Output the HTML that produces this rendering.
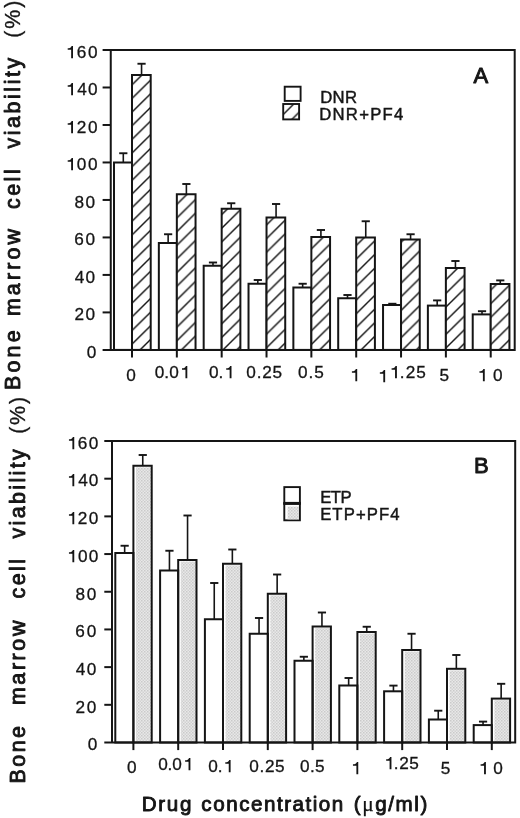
<!DOCTYPE html>
<html><head><meta charset="utf-8"><title>Bone marrow cell viability</title>
<style>
html,body{margin:0;padding:0;background:#fff;}
body{width:520px;height:818px;overflow:hidden;font-family:"Liberation Sans",sans-serif;}
svg{display:block;will-change:transform;}
text{font-family:"Liberation Sans",sans-serif;fill:#151515;}
.t{font-size:17.2px;stroke:#151515;stroke-width:0.3px;}
.lg{font-size:16.7px;stroke:#151515;stroke-width:0.45px;}
.pl{font-size:22px;stroke:#151515;stroke-width:0.95px;stroke-linejoin:round;}
.yl{font-size:21.4px;stroke:#151515;stroke-width:0.9px;stroke-linejoin:round;}
.yl2{font-size:21.4px;stroke:#151515;stroke-width:0.3px;}
.xl{font-size:20.6px;stroke:#151515;stroke-width:0.9px;stroke-linejoin:round;}
.mu{font-family:"Liberation Serif",serif;font-size:21.5px;stroke-width:0.25px;}
</style></head>
<body>
<svg width="520" height="818" viewBox="0 0 520 818">
<defs>
<pattern id="hatch" patternUnits="userSpaceOnUse" width="13.816" height="13.65" x="133.2" y="329.35">
<rect width="13.816" height="13.65" fill="#fff"/>
<path d="M-1 14.638L14.816 -0.988M-1 0.988L1 -0.988M12.816 14.638L14.816 12.662" stroke="#151515" stroke-width="1.4"/>
</pattern>
<pattern id="hatchL" patternUnits="userSpaceOnUse" width="13.6" height="13.6" x="285" y="99.1">
<rect width="13.6" height="13.6" fill="#fff"/>
<path d="M-1 14.6L14.6 -1M-1 1L1 -1M12.6 14.6L14.6 12.6" stroke="#151515" stroke-width="1.4"/>
</pattern>
<pattern id="dots" patternUnits="userSpaceOnUse" width="3" height="3">
<rect width="3" height="3" fill="#e8e8e8"/>
<rect x="0" y="0" width="1.5" height="1.5" fill="#cacaca"/>
<rect x="1.5" y="1.5" width="1.5" height="1.5" fill="#d2d2d2"/>
</pattern>
</defs>
<rect width="520" height="818" fill="#fff"/>
<rect x="114" y="162.5" width="18" height="187.4" fill="#fff" stroke="#151515" stroke-width="2.0"/>
<rect x="132" y="75" width="18.7" height="274.9" fill="url(#hatch)" stroke="#151515" stroke-width="2.0"/>
<path d="M123.3 162.5V153.25" stroke="#151515" stroke-width="1.6" fill="none"/>
<path d="M119.2 153.25H127.4" stroke="#151515" stroke-width="1.9" fill="none"/>
<path d="M141.55 75V63.75" stroke="#151515" stroke-width="1.6" fill="none"/>
<path d="M137.45 63.75H145.65" stroke="#151515" stroke-width="1.9" fill="none"/>
<rect x="158.84" y="243" width="18" height="106.9" fill="#fff" stroke="#151515" stroke-width="2.0"/>
<rect x="176.84" y="194.25" width="18.7" height="155.65" fill="url(#hatch)" stroke="#151515" stroke-width="2.0"/>
<path d="M168.14 243V234.25" stroke="#151515" stroke-width="1.6" fill="none"/>
<path d="M164.04 234.25H172.24" stroke="#151515" stroke-width="1.9" fill="none"/>
<path d="M186.39 194.25V184" stroke="#151515" stroke-width="1.6" fill="none"/>
<path d="M182.29 184H190.49" stroke="#151515" stroke-width="1.9" fill="none"/>
<rect x="203.68" y="265.75" width="18" height="84.15" fill="#fff" stroke="#151515" stroke-width="2.0"/>
<rect x="221.68" y="208.75" width="18.7" height="141.15" fill="url(#hatch)" stroke="#151515" stroke-width="2.0"/>
<path d="M212.98 265.75V262.5" stroke="#151515" stroke-width="1.6" fill="none"/>
<path d="M208.88 262.5H217.08" stroke="#151515" stroke-width="1.9" fill="none"/>
<path d="M231.23 208.75V203.25" stroke="#151515" stroke-width="1.6" fill="none"/>
<path d="M227.13 203.25H235.33" stroke="#151515" stroke-width="1.9" fill="none"/>
<rect x="248.52" y="283.75" width="18" height="66.15" fill="#fff" stroke="#151515" stroke-width="2.0"/>
<rect x="266.52" y="217.5" width="18.7" height="132.4" fill="url(#hatch)" stroke="#151515" stroke-width="2.0"/>
<path d="M257.82 283.75V280" stroke="#151515" stroke-width="1.6" fill="none"/>
<path d="M253.72 280H261.92" stroke="#151515" stroke-width="1.9" fill="none"/>
<path d="M276.07 217.5V204" stroke="#151515" stroke-width="1.6" fill="none"/>
<path d="M271.97 204H280.17" stroke="#151515" stroke-width="1.9" fill="none"/>
<rect x="293.36" y="287.5" width="18" height="62.4" fill="#fff" stroke="#151515" stroke-width="2.0"/>
<rect x="311.36" y="237" width="18.7" height="112.9" fill="url(#hatch)" stroke="#151515" stroke-width="2.0"/>
<path d="M302.66 287.5V283.75" stroke="#151515" stroke-width="1.6" fill="none"/>
<path d="M298.56 283.75H306.76" stroke="#151515" stroke-width="1.9" fill="none"/>
<path d="M320.91 237V230" stroke="#151515" stroke-width="1.6" fill="none"/>
<path d="M316.81 230H325.01" stroke="#151515" stroke-width="1.9" fill="none"/>
<rect x="338.2" y="298.25" width="18" height="51.65" fill="#fff" stroke="#151515" stroke-width="2.0"/>
<rect x="356.2" y="237.5" width="18.7" height="112.4" fill="url(#hatch)" stroke="#151515" stroke-width="2.0"/>
<path d="M347.5 298.25V295" stroke="#151515" stroke-width="1.6" fill="none"/>
<path d="M343.4 295H351.6" stroke="#151515" stroke-width="1.9" fill="none"/>
<path d="M365.75 237.5V221.25" stroke="#151515" stroke-width="1.6" fill="none"/>
<path d="M361.65 221.25H369.85" stroke="#151515" stroke-width="1.9" fill="none"/>
<rect x="383.04" y="305" width="18" height="44.9" fill="#fff" stroke="#151515" stroke-width="2.0"/>
<rect x="401.04" y="239.5" width="18.7" height="110.4" fill="url(#hatch)" stroke="#151515" stroke-width="2.0"/>
<path d="M392.34 305V303.75" stroke="#151515" stroke-width="1.6" fill="none"/>
<path d="M388.24 303.75H396.44" stroke="#151515" stroke-width="1.9" fill="none"/>
<path d="M410.59 239.5V234.25" stroke="#151515" stroke-width="1.6" fill="none"/>
<path d="M406.49 234.25H414.69" stroke="#151515" stroke-width="1.9" fill="none"/>
<rect x="427.88" y="305.6" width="18" height="44.3" fill="#fff" stroke="#151515" stroke-width="2.0"/>
<rect x="445.88" y="268" width="18.7" height="81.9" fill="url(#hatch)" stroke="#151515" stroke-width="2.0"/>
<path d="M437.18 305.6V300.4" stroke="#151515" stroke-width="1.6" fill="none"/>
<path d="M433.08 300.4H441.28" stroke="#151515" stroke-width="1.9" fill="none"/>
<path d="M455.43 268V261" stroke="#151515" stroke-width="1.6" fill="none"/>
<path d="M451.33 261H459.53" stroke="#151515" stroke-width="1.9" fill="none"/>
<rect x="472.72" y="314.4" width="18" height="35.5" fill="#fff" stroke="#151515" stroke-width="2.0"/>
<rect x="490.72" y="284" width="18.7" height="65.9" fill="url(#hatch)" stroke="#151515" stroke-width="2.0"/>
<path d="M482.02 314.4V311.2" stroke="#151515" stroke-width="1.6" fill="none"/>
<path d="M477.92 311.2H486.12" stroke="#151515" stroke-width="1.9" fill="none"/>
<path d="M500.27 284V280.4" stroke="#151515" stroke-width="1.6" fill="none"/>
<path d="M496.17 280.4H504.37" stroke="#151515" stroke-width="1.9" fill="none"/>
<path d="M102.6 50H514.7V349.9H102.6M110.75 50V349.9" stroke="#151515" stroke-width="2.0" fill="none"/>
<path d="M102.6 312.41H110.75" stroke="#151515" stroke-width="2.0"/>
<path d="M102.6 274.92H110.75" stroke="#151515" stroke-width="2.0"/>
<path d="M102.6 237.44H110.75" stroke="#151515" stroke-width="2.0"/>
<path d="M102.6 199.95H110.75" stroke="#151515" stroke-width="2.0"/>
<path d="M102.6 162.46H110.75" stroke="#151515" stroke-width="2.0"/>
<path d="M102.6 124.97H110.75" stroke="#151515" stroke-width="2.0"/>
<path d="M102.6 87.49H110.75" stroke="#151515" stroke-width="2.0"/>
<path d="M132 349.9V357.5" stroke="#151515" stroke-width="2.0"/>
<path d="M176.84 349.9V357.5" stroke="#151515" stroke-width="2.0"/>
<path d="M221.68 349.9V357.5" stroke="#151515" stroke-width="2.0"/>
<path d="M266.52 349.9V357.5" stroke="#151515" stroke-width="2.0"/>
<path d="M311.36 349.9V357.5" stroke="#151515" stroke-width="2.0"/>
<path d="M356.2 349.9V357.5" stroke="#151515" stroke-width="2.0"/>
<path d="M401.04 349.9V357.5" stroke="#151515" stroke-width="2.0"/>
<path d="M445.88 349.9V357.5" stroke="#151515" stroke-width="2.0"/>
<path d="M490.72 349.9V357.5" stroke="#151515" stroke-width="2.0"/>
<rect x="115.3" y="553" width="18.1" height="189.5" fill="#fff" stroke="#151515" stroke-width="2.0"/>
<rect x="136" y="467.35" width="15.7" height="275.15" fill="url(#dots)"/>
<rect x="133.4" y="465.75" width="18.3" height="276.75" fill="none" stroke="#151515" stroke-width="2.0"/>
<path d="M124.65 553V545.75" stroke="#151515" stroke-width="1.6" fill="none"/>
<path d="M120.55 545.75H128.75" stroke="#151515" stroke-width="1.9" fill="none"/>
<path d="M142.75 465.75V455" stroke="#151515" stroke-width="1.6" fill="none"/>
<path d="M138.65 455H146.85" stroke="#151515" stroke-width="1.9" fill="none"/>
<rect x="160.1" y="570.5" width="18.1" height="172" fill="#fff" stroke="#151515" stroke-width="2.0"/>
<rect x="180.8" y="561.6" width="15.7" height="180.9" fill="url(#dots)"/>
<rect x="178.2" y="560" width="18.3" height="182.5" fill="none" stroke="#151515" stroke-width="2.0"/>
<path d="M169.45 570.5V550.75" stroke="#151515" stroke-width="1.6" fill="none"/>
<path d="M165.35 550.75H173.55" stroke="#151515" stroke-width="1.9" fill="none"/>
<path d="M187.55 560V515.5" stroke="#151515" stroke-width="1.6" fill="none"/>
<path d="M183.45 515.5H191.65" stroke="#151515" stroke-width="1.9" fill="none"/>
<rect x="204.9" y="619.25" width="18.1" height="123.25" fill="#fff" stroke="#151515" stroke-width="2.0"/>
<rect x="225.6" y="565.35" width="15.7" height="177.15" fill="url(#dots)"/>
<rect x="223" y="563.75" width="18.3" height="178.75" fill="none" stroke="#151515" stroke-width="2.0"/>
<path d="M214.25 619.25V583" stroke="#151515" stroke-width="1.6" fill="none"/>
<path d="M210.15 583H218.35" stroke="#151515" stroke-width="1.9" fill="none"/>
<path d="M232.35 563.75V549.5" stroke="#151515" stroke-width="1.6" fill="none"/>
<path d="M228.25 549.5H236.45" stroke="#151515" stroke-width="1.9" fill="none"/>
<rect x="249.7" y="633.75" width="18.1" height="108.75" fill="#fff" stroke="#151515" stroke-width="2.0"/>
<rect x="270.4" y="595.35" width="15.7" height="147.15" fill="url(#dots)"/>
<rect x="267.8" y="593.75" width="18.3" height="148.75" fill="none" stroke="#151515" stroke-width="2.0"/>
<path d="M259.05 633.75V618" stroke="#151515" stroke-width="1.6" fill="none"/>
<path d="M254.95 618H263.15" stroke="#151515" stroke-width="1.9" fill="none"/>
<path d="M277.15 593.75V574.5" stroke="#151515" stroke-width="1.6" fill="none"/>
<path d="M273.05 574.5H281.25" stroke="#151515" stroke-width="1.9" fill="none"/>
<rect x="294.5" y="660.75" width="18.1" height="81.75" fill="#fff" stroke="#151515" stroke-width="2.0"/>
<rect x="315.2" y="628.1" width="15.7" height="114.4" fill="url(#dots)"/>
<rect x="312.6" y="626.5" width="18.3" height="116" fill="none" stroke="#151515" stroke-width="2.0"/>
<path d="M303.85 660.75V656.75" stroke="#151515" stroke-width="1.6" fill="none"/>
<path d="M299.75 656.75H307.95" stroke="#151515" stroke-width="1.9" fill="none"/>
<path d="M321.95 626.5V612.5" stroke="#151515" stroke-width="1.6" fill="none"/>
<path d="M317.85 612.5H326.05" stroke="#151515" stroke-width="1.9" fill="none"/>
<rect x="339.3" y="685.5" width="18.1" height="57" fill="#fff" stroke="#151515" stroke-width="2.0"/>
<rect x="360" y="633.6" width="15.7" height="108.9" fill="url(#dots)"/>
<rect x="357.4" y="632" width="18.3" height="110.5" fill="none" stroke="#151515" stroke-width="2.0"/>
<path d="M348.65 685.5V678" stroke="#151515" stroke-width="1.6" fill="none"/>
<path d="M344.55 678H352.75" stroke="#151515" stroke-width="1.9" fill="none"/>
<path d="M366.75 632V626.75" stroke="#151515" stroke-width="1.6" fill="none"/>
<path d="M362.65 626.75H370.85" stroke="#151515" stroke-width="1.9" fill="none"/>
<rect x="384.1" y="691.3" width="18.1" height="51.2" fill="#fff" stroke="#151515" stroke-width="2.0"/>
<rect x="404.8" y="651.6" width="15.7" height="90.9" fill="url(#dots)"/>
<rect x="402.2" y="650" width="18.3" height="92.5" fill="none" stroke="#151515" stroke-width="2.0"/>
<path d="M393.45 691.3V685.6" stroke="#151515" stroke-width="1.6" fill="none"/>
<path d="M389.35 685.6H397.55" stroke="#151515" stroke-width="1.9" fill="none"/>
<path d="M411.55 650V633.75" stroke="#151515" stroke-width="1.6" fill="none"/>
<path d="M407.45 633.75H415.65" stroke="#151515" stroke-width="1.9" fill="none"/>
<rect x="428.9" y="719.5" width="18.1" height="23" fill="#fff" stroke="#151515" stroke-width="2.0"/>
<rect x="449.6" y="670.4" width="15.7" height="72.1" fill="url(#dots)"/>
<rect x="447" y="668.8" width="18.3" height="73.7" fill="none" stroke="#151515" stroke-width="2.0"/>
<path d="M438.25 719.5V710.7" stroke="#151515" stroke-width="1.6" fill="none"/>
<path d="M434.15 710.7H442.35" stroke="#151515" stroke-width="1.9" fill="none"/>
<path d="M456.35 668.8V655" stroke="#151515" stroke-width="1.6" fill="none"/>
<path d="M452.25 655H460.45" stroke="#151515" stroke-width="1.9" fill="none"/>
<rect x="473.7" y="725.1" width="18.1" height="17.4" fill="#fff" stroke="#151515" stroke-width="2.0"/>
<rect x="494.4" y="700.2" width="15.7" height="42.3" fill="url(#dots)"/>
<rect x="491.8" y="698.6" width="18.3" height="43.9" fill="none" stroke="#151515" stroke-width="2.0"/>
<path d="M483.05 725.1V721.6" stroke="#151515" stroke-width="1.6" fill="none"/>
<path d="M478.95 721.6H487.15" stroke="#151515" stroke-width="1.9" fill="none"/>
<path d="M501.15 698.6V683.8" stroke="#151515" stroke-width="1.6" fill="none"/>
<path d="M497.05 683.8H505.25" stroke="#151515" stroke-width="1.9" fill="none"/>
<path d="M104.3 441H515.2V742.5H104.3M112 441V742.5" stroke="#151515" stroke-width="2.0" fill="none"/>
<path d="M104.3 704.81H112" stroke="#151515" stroke-width="2.0"/>
<path d="M104.3 667.12H112" stroke="#151515" stroke-width="2.0"/>
<path d="M104.3 629.44H112" stroke="#151515" stroke-width="2.0"/>
<path d="M104.3 591.75H112" stroke="#151515" stroke-width="2.0"/>
<path d="M104.3 554.06H112" stroke="#151515" stroke-width="2.0"/>
<path d="M104.3 516.38H112" stroke="#151515" stroke-width="2.0"/>
<path d="M104.3 478.69H112" stroke="#151515" stroke-width="2.0"/>
<path d="M133.4 742.5V750.1" stroke="#151515" stroke-width="2.0"/>
<path d="M178.2 742.5V750.1" stroke="#151515" stroke-width="2.0"/>
<path d="M223 742.5V750.1" stroke="#151515" stroke-width="2.0"/>
<path d="M267.8 742.5V750.1" stroke="#151515" stroke-width="2.0"/>
<path d="M312.6 742.5V750.1" stroke="#151515" stroke-width="2.0"/>
<path d="M357.4 742.5V750.1" stroke="#151515" stroke-width="2.0"/>
<path d="M402.2 742.5V750.1" stroke="#151515" stroke-width="2.0"/>
<path d="M447 742.5V750.1" stroke="#151515" stroke-width="2.0"/>
<path d="M491.8 742.5V750.1" stroke="#151515" stroke-width="2.0"/>
<text id="yA0" x="86.7" y="358" class="t">0</text>
<text id="yA20" x="74.43" y="320" class="t" textLength="20.52" lengthAdjust="spacing">20</text>
<text id="yA40" x="74.63" y="283" class="t" textLength="20.31" lengthAdjust="spacing">40</text>
<text id="yA60" x="74.14" y="245" class="t" textLength="20.8" lengthAdjust="spacing">60</text>
<text id="yA80" x="74.44" y="208" class="t" textLength="20.5" lengthAdjust="spacing">80</text>
<text id="yA100" x="76.8" y="170" class="t" textLength="20.83" lengthAdjust="spacing">00</text>
<text id="yA120" x="76.73" y="133" class="t" textLength="20.91" lengthAdjust="spacing">20</text>
<text id="yA140" x="77.15" y="95" class="t" textLength="20.48" lengthAdjust="spacing">40</text>
<text id="yA160" x="76.69" y="58" class="t" textLength="20.94" lengthAdjust="spacing">60</text>
<text id="yB0" x="87.82" y="750" class="t">0</text>
<text id="yB20" x="75.47" y="713" class="t" textLength="20.82" lengthAdjust="spacing">20</text>
<text id="yB40" x="75.87" y="675" class="t" textLength="20.42" lengthAdjust="spacing">40</text>
<text id="yB60" x="75.37" y="637" class="t" textLength="20.92" lengthAdjust="spacing">60</text>
<text id="yB80" x="75.52" y="600" class="t" textLength="20.78" lengthAdjust="spacing">80</text>
<text id="yB100" x="77.91" y="562" class="t" textLength="20.47" lengthAdjust="spacing">00</text>
<text id="yB120" x="77.85" y="524" class="t" textLength="20.54" lengthAdjust="spacing">20</text>
<text id="yB140" x="78.27" y="486" class="t" textLength="20.11" lengthAdjust="spacing">40</text>
<text id="yB160" x="77.77" y="449" class="t" textLength="20.61" lengthAdjust="spacing">60</text>
<text id="xa0" x="126.24" y="381" class="t">0</text>
<text id="xa1" x="154.8" y="378" class="t" textLength="23.93" lengthAdjust="spacing">0.0</text>
<text id="xa2" x="208.91" y="378" class="t" textLength="14.27" lengthAdjust="spacing">0.</text>
<text id="xa3" x="246.37" y="378" class="t" textLength="35.72" lengthAdjust="spacing">0.25</text>
<text id="xa4" x="297.91" y="378" class="t" textLength="25.95" lengthAdjust="spacing">0.5</text>
<text id="xa5" x="399.83" y="378" class="t" textLength="26.03" lengthAdjust="spacing">.25</text>
<text id="xa6" x="439.52" y="381" class="t">5</text>
<text id="xa7" x="492.88" y="381" class="t">0</text>
<text id="xb0" x="126.89" y="773" class="t">0</text>
<text id="xb1" x="158.2" y="770" class="t" textLength="23.63" lengthAdjust="spacing">0.0</text>
<text id="xb2" x="208.2" y="772" class="t" textLength="14.28" lengthAdjust="spacing">0.</text>
<text id="xb3" x="249.34" y="772" class="t" textLength="35.3" lengthAdjust="spacing">0.25</text>
<text id="xb4" x="299.91" y="772" class="t" textLength="24.72" lengthAdjust="spacing">0.5</text>
<text id="xb5" x="393.83" y="769" class="t" textLength="25.03" lengthAdjust="spacing">.25</text>
<text id="xb6" x="440.86" y="774" class="t">5</text>
<text id="xb7" x="493.36" y="774" class="t">0</text>
<text id="lgA1" x="320.13" y="103" class="lg" textLength="36.97" lengthAdjust="spacing">DNR</text>
<text id="lgA2" x="319.18" y="120" class="lg" textLength="84.13" lengthAdjust="spacing">DNR+PF4</text>
<text id="lgB1" x="320.13" y="503" class="lg" textLength="31.42" lengthAdjust="spacing">ETP</text>
<text id="lgB2" x="320.13" y="520" class="lg" textLength="79.4" lengthAdjust="spacing">ETP+PF4</text>
<text id="pA" x="473.6" y="83" class="pl">A</text>
<text id="pB" x="474.12" y="473" class="pl">B</text>
<text id="xt1" x="141.71" y="810.8" class="xl" textLength="49.74" lengthAdjust="spacing">Drug</text>
<text id="xt2" x="201.36" y="811" class="xl" textLength="141.96" lengthAdjust="spacing">concentration</text>
<text id="xt3" x="353.72" y="810.9" class="xl" textLength="73.55" lengthAdjust="spacing">(<tspan class="mu">&#956;</tspan>g/ml)</text>
<text id="vABone" transform="translate(19.6 389.96) rotate(-90)" class="yl" textLength="59.56" lengthAdjust="spacing">Bone</text>
<text id="vAmarrow" transform="translate(19.6 316.09) rotate(-90)" class="yl" textLength="86.99" lengthAdjust="spacing">marrow</text>
<text id="vAcell" transform="translate(19.6 209.07) rotate(-90)" class="yl" textLength="39.78" lengthAdjust="spacing">cell</text>
<text id="vAviability" transform="translate(19.6 148.59) rotate(-90)" class="yl" textLength="90.83" lengthAdjust="spacing">viability</text>
<text id="vBBone" transform="translate(24.9 783.48) rotate(-90)" class="yl" textLength="57.39" lengthAdjust="spacing">Bone</text>
<text id="vBmarrow" transform="translate(24.9 705.09) rotate(-90)" class="yl" textLength="84.43" lengthAdjust="spacing">marrow</text>
<text id="vBcell" transform="translate(24.9 598.56) rotate(-90)" class="yl" textLength="39.66" lengthAdjust="spacing">cell</text>
<text id="vBviability" transform="translate(24.9 538.56) rotate(-90)" class="yl" textLength="89.36" lengthAdjust="spacing">viability</text>
<text id="vApc" transform="translate(19.6 37.82) rotate(-90)" class="yl2" textLength="37.14" lengthAdjust="spacing">(%)</text>
<text id="vBpc" transform="translate(24.9 433.77) rotate(-90)" class="yl2" textLength="36.79" lengthAdjust="spacing">(%)</text>
<path transform="translate(67.7 157.95)" d="M5.3 0H3.9C3.55 1.55 2.15 2.3 0 2.4V3.7H3.45V12.2H5.3Z" fill="#151515"/>
<path transform="translate(67.7 120.95)" d="M5.3 0H3.9C3.55 1.55 2.15 2.3 0 2.4V3.7H3.45V12.2H5.3Z" fill="#151515"/>
<path transform="translate(67.7 82.95)" d="M5.3 0H3.9C3.55 1.55 2.15 2.3 0 2.4V3.7H3.45V12.2H5.3Z" fill="#151515"/>
<path transform="translate(67.7 45.95)" d="M5.3 0H3.9C3.55 1.55 2.15 2.3 0 2.4V3.7H3.45V12.2H5.3Z" fill="#151515"/>
<path transform="translate(68.95 549.95)" d="M5.3 0H3.9C3.55 1.55 2.15 2.3 0 2.4V3.7H3.45V12.2H5.3Z" fill="#151515"/>
<path transform="translate(68.95 511.95)" d="M5.3 0H3.9C3.55 1.55 2.15 2.3 0 2.4V3.7H3.45V12.2H5.3Z" fill="#151515"/>
<path transform="translate(68.95 473.95)" d="M5.3 0H3.9C3.55 1.55 2.15 2.3 0 2.4V3.7H3.45V12.2H5.3Z" fill="#151515"/>
<path transform="translate(68.95 436.95)" d="M5.3 0H3.9C3.55 1.55 2.15 2.3 0 2.4V3.7H3.45V12.2H5.3Z" fill="#151515"/>
<path transform="translate(182 365.95)" d="M5.3 0H3.9C3.55 1.55 2.15 2.3 0 2.4V3.7H3.45V12.2H5.3Z" fill="#151515"/>
<path transform="translate(226.2 365.95)" d="M5.3 0H3.9C3.55 1.55 2.15 2.3 0 2.4V3.7H3.45V12.2H5.3Z" fill="#151515"/>
<path transform="translate(351.9 368.95)" d="M5.3 0H3.9C3.55 1.55 2.15 2.3 0 2.4V3.7H3.45V12.2H5.3Z" fill="#151515"/>
<path transform="translate(379.85 369.95)" d="M5.3 0H3.9C3.55 1.55 2.15 2.3 0 2.4V3.7H3.45V12.2H5.3Z" fill="#151515"/>
<path transform="translate(391.6 365.95)" d="M5.3 0H3.9C3.55 1.55 2.15 2.3 0 2.4V3.7H3.45V12.2H5.3Z" fill="#151515"/>
<path transform="translate(479.45 368.95)" d="M5.3 0H3.9C3.55 1.55 2.15 2.3 0 2.4V3.7H3.45V12.2H5.3Z" fill="#151515"/>
<path transform="translate(185.1 757.95)" d="M5.3 0H3.9C3.55 1.55 2.15 2.3 0 2.4V3.7H3.45V12.2H5.3Z" fill="#151515"/>
<path transform="translate(225.3 759.95)" d="M5.3 0H3.9C3.55 1.55 2.15 2.3 0 2.4V3.7H3.45V12.2H5.3Z" fill="#151515"/>
<path transform="translate(352.95 761.95)" d="M5.3 0H3.9C3.55 1.55 2.15 2.3 0 2.4V3.7H3.45V12.2H5.3Z" fill="#151515"/>
<path transform="translate(386.15 756.95)" d="M5.3 0H3.9C3.55 1.55 2.15 2.3 0 2.4V3.7H3.45V12.2H5.3Z" fill="#151515"/>
<path transform="translate(480.6 761.95)" d="M5.3 0H3.9C3.55 1.55 2.15 2.3 0 2.4V3.7H3.45V12.2H5.3Z" fill="#151515"/>
<rect x="284.7" y="86.7" width="15.9" height="14.2" fill="#fff" stroke="#151515" stroke-width="1.9"/>
<rect x="283.2" y="104" width="15.9" height="15.4" fill="url(#hatchL)" stroke="#151515" stroke-width="1.9"/>
<rect x="284.3" y="487.1" width="15.6" height="16.3" fill="#fff" stroke="#151515" stroke-width="1.9"/>
<rect x="284.3" y="503.4" width="15.6" height="16.9" fill="#fff" stroke="#151515" stroke-width="1.9"/>
<rect x="287.6" y="506.6" width="11.4" height="12.8" fill="url(#dots)"/>
<path d="M283.4 503.4H300.8" stroke="#151515" stroke-width="3"/>
</svg>
</body></html>
